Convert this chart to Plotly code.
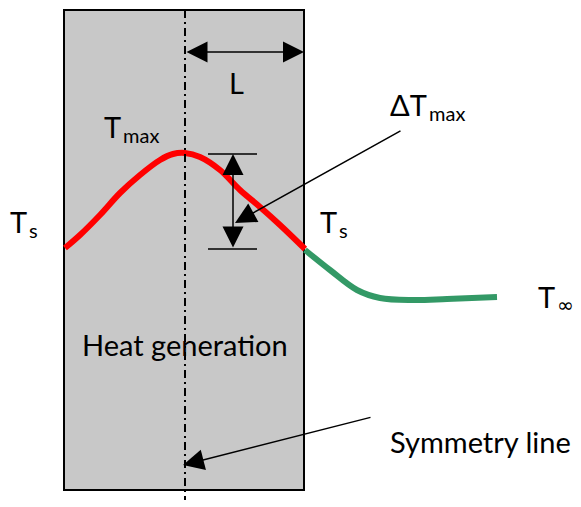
import plotly.graph_objects as go

# Temperature profile inside the slab (red) and in the fluid (green), pixel-like coordinates
slab_x = [65, 80, 100, 120, 140, 160, 173, 185, 200, 220, 240, 260, 280, 305]
slab_y = [248, 235, 215, 193, 175, 160, 154, 153, 157, 170, 190, 207, 225, 249]
fluid_x = [305, 330, 357, 380, 413, 447, 497]
fluid_y = [250, 270, 290, 298, 300, 299, 297]

# symbol labels: main text, subscript
sym_main = ["T", "ΔT", "T", "T", "T"]
sym_sub = ["max", "max", "s", "s", "∞"]
plain_labels = ["L", "Heat generation", "Symmetry line"]

MAIN = dict(family="Lato", size=29, color="black")
SUBF = dict(family="Lato", size=20, color="black")
INF = dict(family="DejaVu Sans", size=20, color="black")

fig = go.Figure()

# slab
fig.add_shape(type="rect", x0=64, x1=304, y0=10, y1=490,
              fillcolor="#c8c8c8", line=dict(color="black", width=2), layer="below")
# symmetry line
fig.add_shape(type="line", x0=185, x1=185, y0=10, y1=500,
              line=dict(color="black", width=2, dash="8px,4px,2px,4px"))
# bracket lines
fig.add_shape(type="line", x0=208, x1=257, y0=154, y1=154, line=dict(color="black", width=1.5))
fig.add_shape(type="line", x0=208, x1=257, y0=249, y1=249, line=dict(color="black", width=1.5))

fig.add_trace(go.Scatter(x=slab_x, y=slab_y, mode="lines",
                         line=dict(color="#ff0000", width=6, shape="spline"),
                         hoverinfo="skip", showlegend=False))
fig.add_trace(go.Scatter(x=fluid_x, y=fluid_y, mode="lines",
                         line=dict(color="#339966", width=6, shape="spline"),
                         hoverinfo="skip", showlegend=False))

def arrow(x, y, ax, ay, both=False):
    d = dict(x=x, y=y, ax=ax, ay=ay, xref="x", yref="y", axref="x", ayref="y",
             text="", showarrow=True, arrowhead=2, arrowsize=2.8, arrowwidth=1.5,
             arrowcolor="black", standoff=0, startstandoff=0)
    if both:
        d.update(arrowside="end+start", startarrowhead=2, startarrowsize=2.8)
    fig.add_annotation(**d)

arrow(304, 52, 185, 52, both=True)      # L
arrow(233, 154, 233, 249, both=True)    # delta T bracket
arrow(235, 223, 402, 130)               # delta T leader
arrow(183, 465, 372, 417)               # symmetry leader

# symbol labels: join x (between main and subscript), centre y of main text
sym_pos = [(122, 126), (428, 104), (28, 221.5), (338, 221.5), (556, 296)]
for m, s, (x, y) in zip(sym_main, sym_sub, sym_pos):
    fig.add_annotation(x=x, y=y, xref="x", yref="y", text=m, showarrow=False,
                       font=MAIN, xanchor="right", yanchor="middle", borderpad=0)
    fig.add_annotation(x=x, y=y + 8.5, xref="x", yref="y", text=s, showarrow=False,
                       font=INF if s == "∞" else SUBF, xanchor="left", yanchor="middle",
                       borderpad=0)

plain_pos = [(236, 82), (185, 344), (480, 441)]
for t, (x, y) in zip(plain_labels, plain_pos):
    fig.add_annotation(x=x, y=y, xref="x", yref="y", text=t, showarrow=False,
                       font=MAIN, xanchor="center", yanchor="middle")

# the page body adds an 8px margin; shift the drawing area so pixels line up
fig.update_xaxes(range=[8, 581], visible=False, fixedrange=True)
fig.update_yaxes(range=[507, 8], visible=False, fixedrange=True)
fig.update_layout(width=573, height=499, margin=dict(l=0, r=0, t=0, b=0),
                  plot_bgcolor="white", paper_bgcolor="white", showlegend=False)

fig.write_html("out.html")
